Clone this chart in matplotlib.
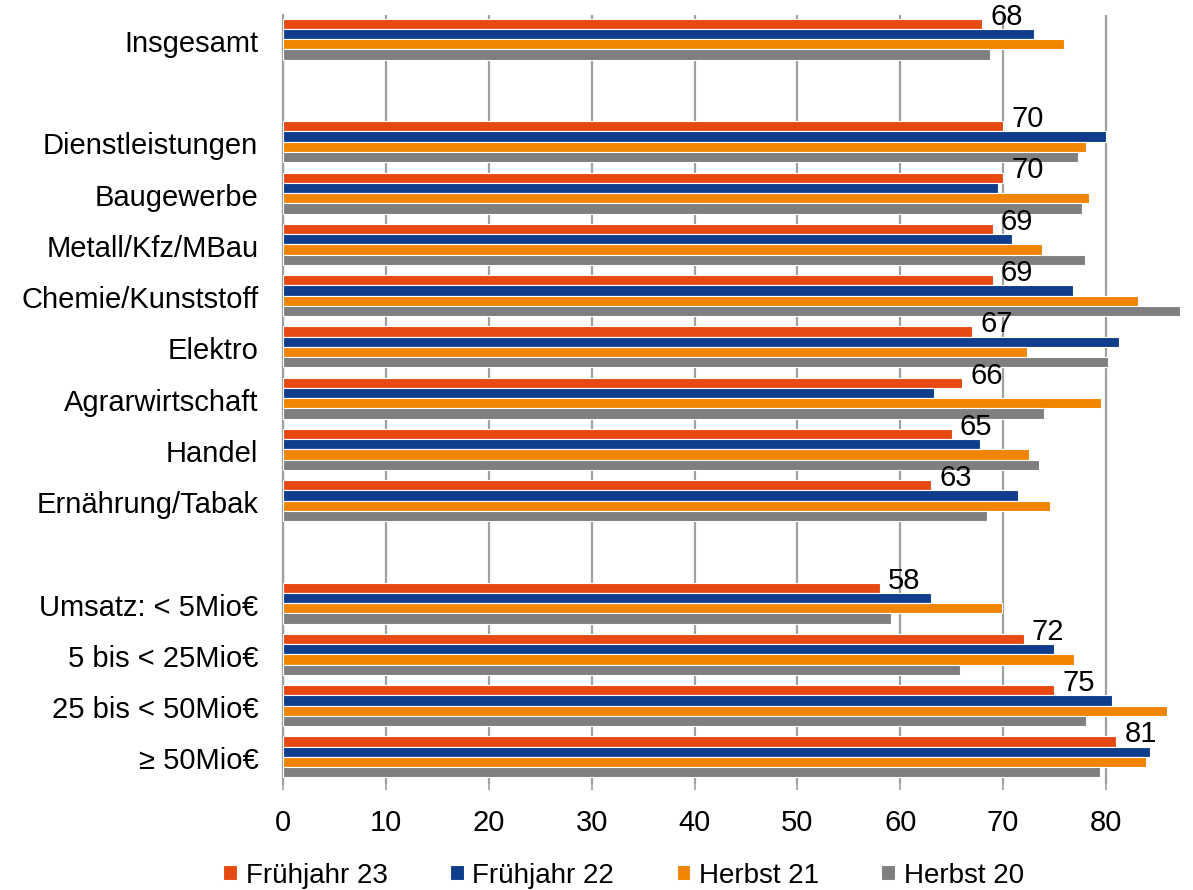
import numpy as np
import matplotlib.pyplot as plt

plt.rcParams['font.family'] = ['Liberation Sans', 'DejaVu Sans']

# Kategorien von oben nach unten; None = Leerzeile als Trenner
categories = ["Insgesamt", None,
              "Dienstleistungen", "Baugewerbe", "Metall/Kfz/MBau",
              "Chemie/Kunststoff", "Elektro", "Agrarwirtschaft", "Handel",
              "Ernährung/Tabak", None,
              "Umsatz: < 5Mio€", "5 bis < 25Mio€", "25 bis < 50Mio€", "≥ 50Mio€"]

series_names = ["Frühjahr 23", "Frühjahr 22", "Herbst 21", "Herbst 20"]

fruehjahr_23 = [68, None, 70, 70, 69, 69, 67, 66, 65, 63, None, 58, 72, 75, 81]
fruehjahr_22 = [73.0, None, 80.0, 69.5, 70.9, 76.8, 81.3, 63.3, 67.8, 71.5, None, 63.0, 75.0, 80.6, 84.3]
herbst_21 = [75.9, None, 78.1, 78.4, 73.8, 83.1, 72.3, 79.5, 72.5, 74.6, None, 69.9, 76.9, 85.9, 83.9]
herbst_20 = [68.7, None, 77.3, 77.7, 78.0, 87.2, 80.2, 74.0, 73.5, 68.4, None, 59.1, 65.8, 78.1, 79.4]

colors = ["#e64a12", "#0f3d8c", "#f28500", "#7f7f7f"]

fig = plt.figure(figsize=(11.93, 8.9), dpi=100)
ax = fig.add_axes([0.2375, 0.119, 0.7515, 0.864])

n = len(categories)
slot = np.arange(n)
bar_h = 0.2
offsets = [-1.5 * bar_h - 0.03, -0.5 * bar_h - 0.03, 0.5 * bar_h - 0.03, 1.5 * bar_h - 0.03]

all_series = [fruehjahr_23, fruehjahr_22, herbst_21, herbst_20]
for values, name, color, off in zip(all_series, series_names, colors, offsets):
    idx = [i for i, v in enumerate(values) if v is not None]
    vals = [values[i] for i in idx]
    ax.barh(slot[idx] + off, vals, height=bar_h, color=color,
            edgecolor="white", linewidth=0.8, label=name, zorder=3)

# Werte der aktuellen Umfrage neben dem obersten Balken
for i, v in enumerate(fruehjahr_23):
    if v is None:
        continue
    ax.text(v + 0.8, slot[i] + offsets[0] - 0.14, f"{v:.0f}",
            fontsize=21, va="center", ha="left", color="black", zorder=4)

ax.set_ylim(n - 0.5, -0.5)
ax.set_xlim(0, 87.2)
ax.set_xticks(np.arange(0, 81, 10))
ax.set_yticks([i for i, c in enumerate(categories) if c is not None])
ax.set_yticklabels([c for c in categories if c is not None], fontsize=21)
ax.tick_params(axis="y", length=0, pad=18)
ax.tick_params(axis="x", labelsize=21, length=4, width=1.2, color="#a0a0a0",
               direction="out", pad=14)

ax.grid(axis="x", color="#a0a0a0", linewidth=1.6, zorder=0)
for side in ["top", "right", "bottom"]:
    ax.spines[side].set_visible(False)
ax.spines["left"].set_color("#a0a0a0")
ax.spines["left"].set_linewidth(1.6)

ax.legend(loc="center", bbox_to_anchor=(0.3795, -0.119), ncol=4,
          frameon=False, fontsize=20, handlelength=0.5, handleheight=0.47,
          handletextpad=0.3, columnspacing=2.25)

fig.savefig("out.png", dpi=100)
